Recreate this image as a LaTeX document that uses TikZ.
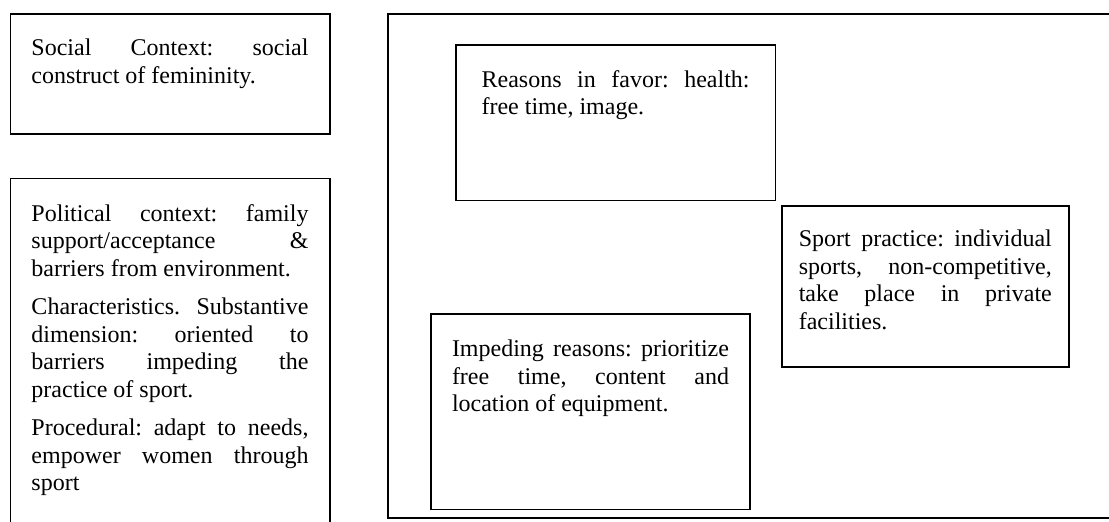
\documentclass[tikz,border=0pt]{standalone}
\usepackage{fontspec}
\setmainfont{Liberation Serif}
\usetikzlibrary{positioning}
\frenchspacing
\hyphenpenalty=10000
\exhyphenpenalty=10000
\tolerance=9999

\begin{document}
\begin{tikzpicture}[
        x=0.5pt, y=-0.5pt,
        textbox/.style={draw, line width=0.8pt, anchor=north west, inner ysep=0pt,
            align=justify, font=\fontsize{12pt}{13.75pt}\selectfont, text height=21pt},
        framebox/.style={draw, line width=0.8pt, anchor=north west, inner sep=0pt},
    ]
    \useasboundingbox (0,0) rectangle (1109,522);
    \clip (0,0) rectangle (1109,522);

    %Nodes: contexts on the left
    \node[textbox, text width=138.5pt, inner xsep=10.6pt, text depth=39pt]
        (social) at (9.5,13) {Social Context: social construct of femininity.};

    \node[textbox, text width=138.5pt, inner xsep=10.6pt, text height=21.5pt, text depth=163pt]
        (political) [below=21.5pt of social.south west, anchor=north west]
        {Political context: family support/acceptance \& barriers from environment.\par\vspace{5.5pt}
         Characteristics. Substantive dimension: oriented to barriers impeding the practice of sport.\par\vspace{5.5pt}
         Procedural: adapt to needs, empower women through sport};

    %Nodes: frame with reasons and practice
    \node[framebox, minimum width=366.5pt, minimum height=252.1pt] (frame) at (387,13.3) {};

    \node[textbox, text width=134pt, inner xsep=12.9pt, text depth=56.7pt]
        (favor) at (455,44.5) {Reasons in favor: health: free time, image.};

    \node[textbox, text width=126.5pt, inner xsep=8.5pt, text height=20.4pt, text depth=60.1pt]
        (practice) at (781,205) {Sport practice: individual sports, non-competitive, take place in private facilities.};

    \node[textbox, text width=138.5pt, inner xsep=10.6pt, text height=21.4pt, text depth=76.4pt]
        (impeding) at (430,313) {Impeding reasons: prioritize free time, content and location of equipment.};
\end{tikzpicture}
\end{document}
